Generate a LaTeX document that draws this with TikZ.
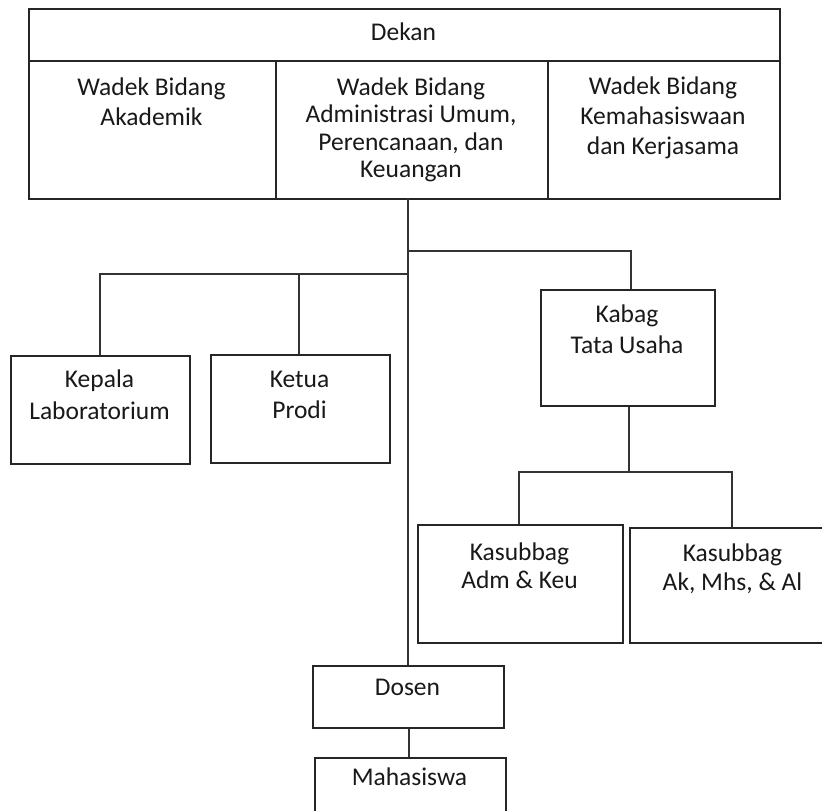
\documentclass[tikz,border=0pt]{standalone}
\usepackage{fontspec}
\setmainfont{Carlito}
\begin{document}
\begin{tikzpicture}[x=1pt,y=-1pt,
  boxline/.style={draw=black!85,line width=1.6pt},
  box/.style={boxline,rectangle,inner sep=0pt,anchor=north west},
  txt/.style={inner sep=0pt,anchor=base,align=center,text=black!90,
    font=\fontsize{25.5}{30}\selectfont},
  conn/.style={draw=black!80,line width=1.4pt}]
\path[use as bounding box,clip] (0,0) rectangle (822,811);
\fill[white] (0,0) rectangle (822,811);

% top block
\node[box,minimum width=751pt,minimum height=52pt] (dekan) at (28,8) {};
\node[box,minimum width=247pt,minimum height=138pt] (wak) at (28,60) {};
\node[box,minimum width=272pt,minimum height=138pt] (wadm) at (275,60) {};
\node[box,minimum width=232pt,minimum height=138pt] (wkm) at (547,60) {};
\node[txt] (tdekan) at (403.5,40) {Dekan};
\node[txt] (twak) at (151.5,125) {Wadek Bidang\\Akademik};
\node[txt,font=\fontsize{25.5}{27.5}\selectfont] (twadm) at (411,177.5) {Wadek Bidang\\Administrasi Umum,\\Perencanaan, dan\\Keuangan};
\node[txt] (twkm) at (663,154) {Wadek Bidang\\Kemahasiswaan\\dan Kerjasama};

% second level
\node[box,minimum width=179pt,minimum height=108pt] (kep) at (10,355) {};
\node[txt,font=\fontsize{25.5}{32}\selectfont] (tkep) at (99.5,419) {Kepala\\Laboratorium};
\node[box,minimum width=179pt,minimum height=108pt] (ket) at (210,354) {};
\node[txt,font=\fontsize{25.5}{31}\selectfont] (tket) at (299.5,418) {Ketua\\Prodi};
\node[box,minimum width=174pt,minimum height=116pt] (kab) at (540,289) {};
\node[txt,font=\fontsize{25.5}{31}\selectfont] (tkab) at (627,353) {Kabag\\Tata Usaha};
\node[box,minimum width=205pt,minimum height=118pt] (ksa) at (417,524) {};
\node[txt,font=\fontsize{25.5}{28}\selectfont] (tksa) at (519.5,588) {Kasubbag\\Adm \& Keu};
\node[box,minimum width=206pt,minimum height=115pt] (ksb) at (629,527) {};
\node[txt,font=\fontsize{25.5}{29}\selectfont] (tksb) at (732.5,590) {Kasubbag\\Ak, Mhs, \& Al};
\node[box,minimum width=191pt,minimum height=62pt] (dos) at (312,665) {};
\node[txt] (tdos) at (407.5,695) {Dosen};
\node[box,minimum width=191pt,minimum height=80pt] (mhs) at (314,757) {};
\node[txt] (tmhs) at (409.5,785) {Mahasiswa};

% connectors
\coordinate (spine) at (408,198);
\coordinate (jl) at (408,274);
\coordinate (jr) at (408,251);
\draw[conn] (spine) -- (spine |- dos.north);
\draw[conn] (jl) -- (100,274) -- (100,274 |- kep.north);
\draw[conn] (299,274) -- (299,274 |- ket.north);
\draw[conn] (jr) -- (631,251) -- (631,251 |- kab.north);
\coordinate (kj) at (629,472);
\draw[conn] (kab.south -| kj) -- (kj);
\draw[conn] (519,524 |- ksa.north) -- (519,472) -- (732,472) -- (732,472 |- ksb.north);
\draw[conn] (dos.south -| 409,0) -- (mhs.north -| 409,0);
\end{tikzpicture}
\end{document}
